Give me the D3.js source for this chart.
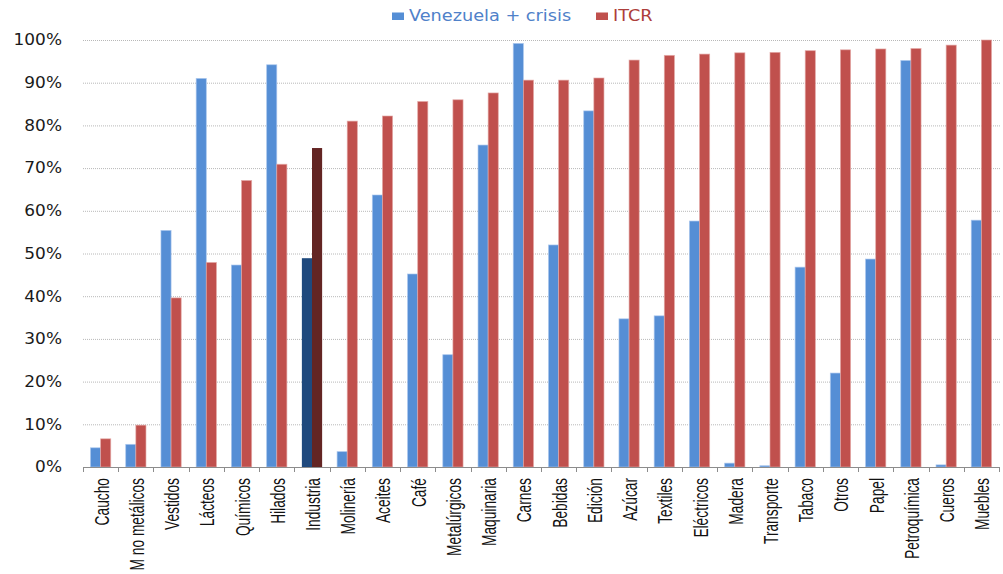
<!DOCTYPE html>
<html>
<head>
<meta charset="utf-8">
<script src="https://cdn.jsdelivr.net/npm/d3@7"></script>
<style>
  html, body { margin: 0; padding: 0; background: #fff; }
  svg { display: block; }
</style>
</head>
<body>
<svg id="chart" width="1003" height="574"></svg>
<script>
// Sectors, sorted by ITCR share
const categories = ["Caucho", "M no metálicos", "Vestidos", "Lácteos", "Químicos", "Hilados",
  "Industria", "Molinería", "Aceites", "Café", "Metalúrgicos", "Maquinaria", "Carnes",
  "Bebidas", "Edición", "Azúcar", "Textiles", "Eléctricos", "Madera", "Transporte",
  "Tabaco", "Otros", "Papel", "Petroquímica", "Cueros", "Muebles"];

const seriesNames = ["Venezuela + crisis", "ITCR"];

// Shares in percent
const venezuelaCrisis = [4.5, 5.3, 55.4, 91.0, 47.3, 94.2, 48.9, 3.6, 63.7, 45.2, 26.3, 75.4,
  99.2, 52.0, 83.4, 34.7, 35.4, 57.6, 0.9, 0.3, 46.8, 22.0, 48.7, 95.2, 0.5, 57.8];
const itcr = [6.6, 9.8, 39.6, 47.9, 67.1, 70.9, 74.7, 81.0, 82.2, 85.6, 86.0, 87.6,
  90.6, 90.6, 91.1, 95.3, 96.4, 96.7, 97.0, 97.1, 97.5, 97.7, 97.9, 98.0, 98.8, 100];

const yTicks = [0, 10, 20, 30, 40, 50, 60, 70, 80, 90, 100];

const highlight = "Industria";
const colors = { base: ["#558ED5", "#C0504D"], dark: ["#1F497D", "#632523"] };
const edge = ["#a9c6ee", "#e3a7a5"];

const svg = d3.select("#chart");
const plotLeft = 83, plotRight = 999, plotTop = 40, plotBottom = 467;

const x0 = d3.scaleBand().domain(categories).range([plotLeft, plotRight]).padding(0);
const x1 = d3.scaleBand().domain([0, 1]).range([0, x0.bandwidth()]).paddingInner(0).paddingOuter(0.74);
const y = d3.scaleLinear().domain([0, 100]).range([plotBottom, plotTop]);

// Dotted gridlines
svg.append("g")
  .selectAll("line")
  .data(yTicks.filter(d => d > 0))
  .join("line")
  .attr("x1", plotLeft).attr("x2", plotRight + 1)
  .attr("y1", d => y(d) + 0.5).attr("y2", d => y(d) + 0.5)
  .attr("stroke", "#b8b8b8")
  .attr("stroke-width", 1)
  .attr("stroke-dasharray", "1,1");

// Y axis labels (slightly widened glyphs)
const yAxis = d3.axisLeft(y).tickValues(yTicks).tickSize(0).tickPadding(0)
  .tickFormat(d => d + "%");
svg.append("g")
  .attr("transform", `translate(62,0)`)
  .call(yAxis)
  .call(g => g.select(".domain").remove())
  .call(g => g.selectAll("text")
    .attr("font-family", "'DejaVu Sans', Verdana, sans-serif")
    .attr("font-size", 15)
    .attr("fill", "#1a1a1a")
    .attr("x", 0)
    .attr("transform", "scale(1.13,1)"));

// Bars
const rows = categories.map((c, i) => ({ cat: c, vals: [venezuelaCrisis[i], itcr[i]] }));
const groups = svg.append("g")
  .selectAll("g")
  .data(rows)
  .join("g")
  .attr("transform", d => `translate(${x0(d.cat)},0)`);

groups.selectAll("rect")
  .data(d => d.vals.map((v, s) => ({ v, s, cat: d.cat })))
  .join("rect")
  .attr("x", d => x1(d.s))
  .attr("width", x1.bandwidth())
  .attr("y", d => y(d.v))
  .attr("height", d => y(0) - y(d.v))
  .attr("fill", d => (d.cat === highlight ? colors.dark : colors.base)[d.s])
  .attr("stroke", d => d.cat === highlight ? "none" : edge[d.s])
  .attr("stroke-width", 0.8)
  .attr("stroke-opacity", 0.8);

// X axis line and category separators
svg.append("line")
  .attr("x1", plotLeft).attr("x2", plotRight)
  .attr("y1", plotBottom + 0.5).attr("y2", plotBottom + 0.5)
  .attr("stroke", "#8c8c8c").attr("stroke-width", 1);

const boundaries = categories.map(c => x0(c)).concat([plotRight]);
svg.append("g")
  .selectAll("line")
  .data(boundaries)
  .join("line")
  .attr("x1", d => Math.round(d) + 0.5).attr("x2", d => Math.round(d) + 0.5)
  .attr("y1", plotBottom).attr("y2", plotBottom + 5)
  .attr("stroke", "#8c8c8c");

// Category labels, rotated and condensed along the reading direction
const xAxis = d3.axisBottom(x0).tickSize(0).tickPadding(0);
svg.append("g")
  .attr("transform", `translate(0,${plotBottom})`)
  .call(xAxis)
  .call(g => g.select(".domain").remove())
  .call(g => g.selectAll("text")
    .attr("font-family", "'Liberation Sans', Arial, sans-serif")
    .attr("font-size", 16)
    .attr("fill", "#111")
    .attr("text-anchor", "end")
    .attr("y", 0)
    .attr("dy", "0.35em")
    .attr("transform", "translate(1,11) rotate(-90) scale(0.86,1.25)"));

// Legend
const legendItems = [
  { name: seriesNames[0], color: colors.base[0], text: "#4f81c9", x: 392 },
  { name: seriesNames[1], color: colors.base[1], text: "#ad3e3b", x: 596 }
];
const lg = svg.append("g").selectAll("g").data(legendItems).join("g")
  .attr("transform", d => `translate(${d.x},0)`);
lg.append("rect").attr("y", 12.5).attr("width", 12).attr("height", 7.5).attr("fill", d => d.color);
lg.append("text")
  .attr("transform", "translate(17,20.8) scale(1.18,1)")
  .attr("font-family", "'DejaVu Sans', Verdana, sans-serif")
  .attr("font-size", 15)
  .attr("fill", d => d.text)
  .text(d => d.name);
</script>
</body>
</html>
